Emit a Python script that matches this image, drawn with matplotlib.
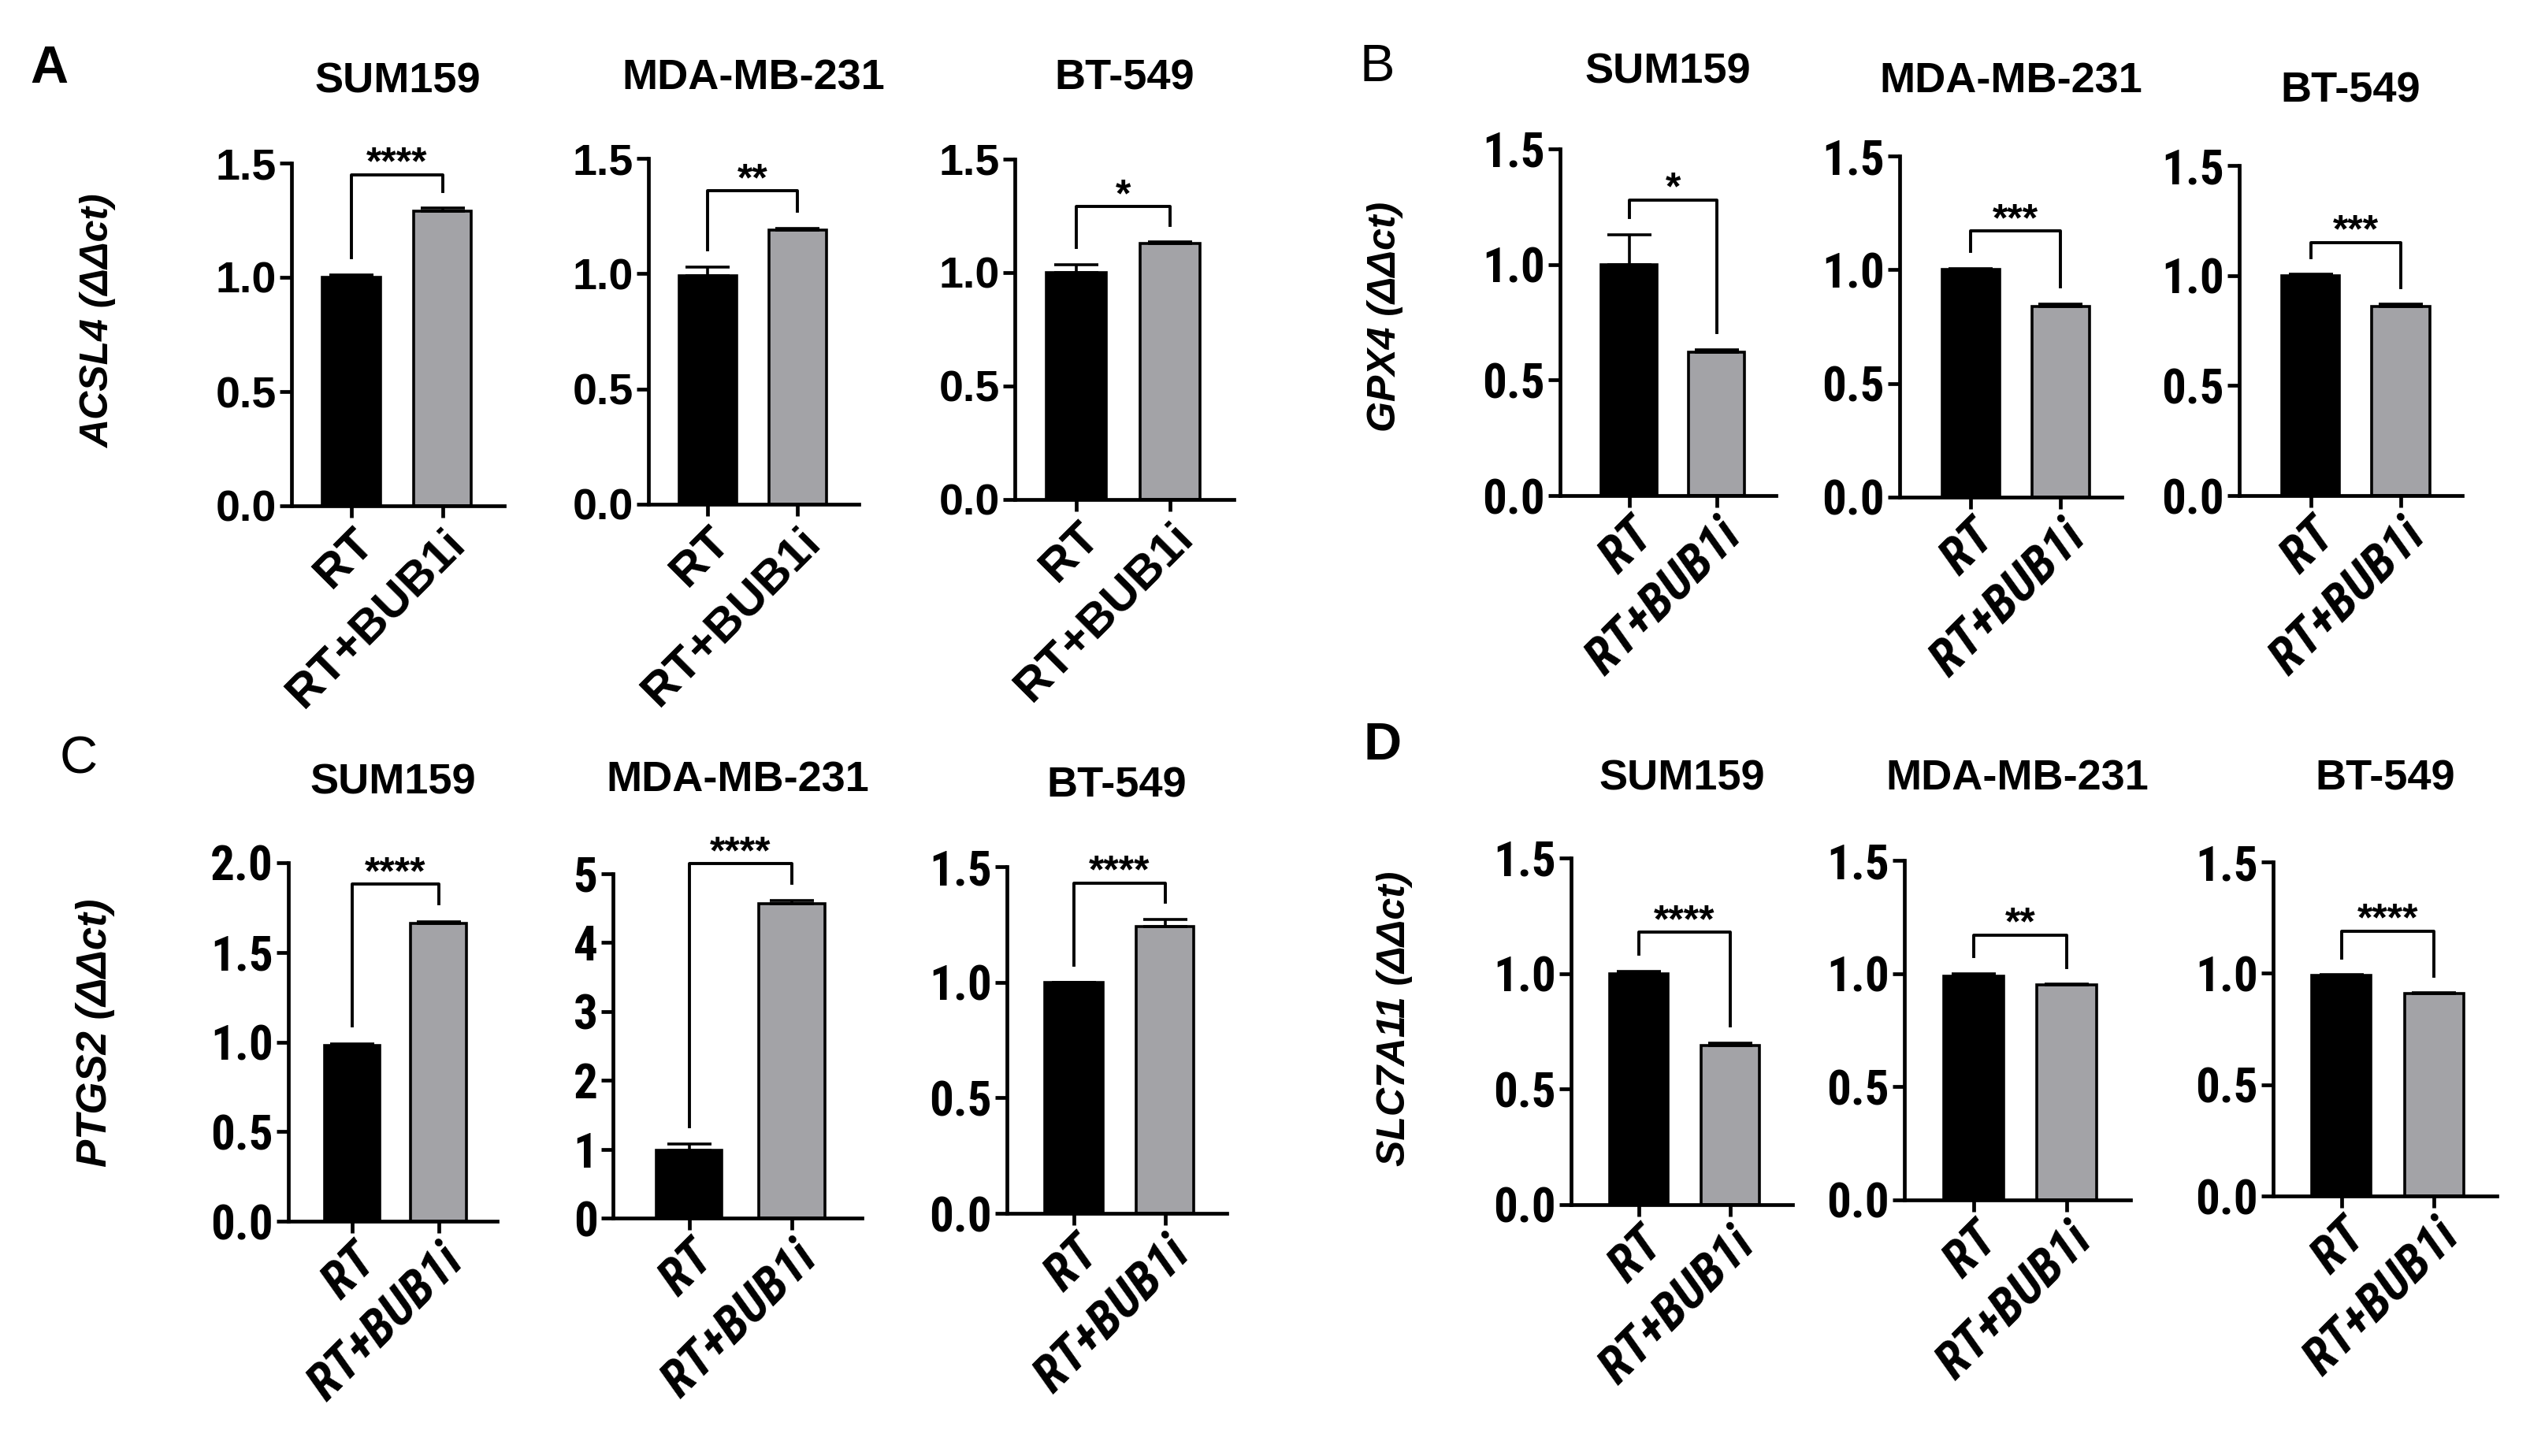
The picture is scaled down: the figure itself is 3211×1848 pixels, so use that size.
import os
import matplotlib
matplotlib.use('Agg')
import matplotlib.pyplot as plt
from matplotlib import font_manager
from matplotlib.font_manager import FontProperties
from matplotlib.ticker import MultipleLocator, FormatStrFormatter

W, H = 3212, 1848

cell_lines = ['SUM159', 'MDA-MB-231', 'BT-549']
groups = ['RT', 'RT+BUB1i']

# ACSL4
acsl4_rt = [1.00, 0.99, 1.00]
acsl4_rt_err = [0.01, 0.04, 0.035]
acsl4_bub = [1.29, 1.19, 1.13]
acsl4_bub_err = [0.012, 0.005, 0.005]
acsl4_sig = ['****', '**', '*']
acsl4_bracket = [1.45, 1.36, 1.29]

# GPX4
gpx4_rt = [1.00, 1.00, 1.00]
gpx4_rt_err = [0.13, 0.005, 0.005]
gpx4_bub = [0.62, 0.84, 0.86]
gpx4_bub_err = [0.01, 0.01, 0.01]
gpx4_sig = ['*', '***', '***']
gpx4_bracket = [1.28, 1.17, 1.15]

# PTGS2
ptgs2_rt = [0.98, 0.98, 1.00]
ptgs2_rt_err = [0.01, 0.10, 0.0]
ptgs2_bub = [1.66, 4.57, 1.24]
ptgs2_bub_err = [0.01, 0.04, 0.03]
ptgs2_sig = ['****', '****', '****']
ptgs2_bracket = [1.88, 5.15, 1.43]
ptgs2_ymax = [2.0, 5.0, 1.5]
ptgs2_ystep = [0.5, 1.0, 0.5]

# SLC7A11
slc_rt = [1.00, 0.99, 0.99]
slc_rt_err = [0.01, 0.01, 0.005]
slc_bub = [0.69, 0.95, 0.91]
slc_bub_err = [0.01, 0.003, 0.003]
slc_sig = ['****', '**', '****']
slc_bracket = [1.18, 1.17, 1.19]

names = {f.name for f in font_manager.fontManager.ttflist}
BASE = 'Liberation Sans' if 'Liberation Sans' in names else 'DejaVu Sans'
plt.rcParams['font.family'] = BASE


def find_condensed(italic):
    # look for a bold narrow / condensed face on the system
    ok = []
    for f in font_manager.fontManager.ttflist:
        base = os.path.basename(f.fname).lower()
        narrow = ('narrow' in f.name.lower() or 'condensed' in f.name.lower()
                  or 'condensed' in base or 'narrow' in base)
        if not narrow:
            continue
        bold = (f.weight in ('bold', 700) or 'bold' in base)
        if not bold:
            continue
        is_it = f.style in ('italic', 'oblique') or 'italic' in base or 'oblique' in base
        if is_it != italic:
            continue
        rank = 0 if 'liberation' in base else (1 if 'roboto' in base else 2)
        ok.append((rank, f.fname))
    ok.sort()
    return ok[0][1] if ok else None


COND = find_condensed(False)
COND_IT = find_condensed(True)


def cond_props(size, italic=False):
    path = COND_IT if italic else COND
    if path:
        return FontProperties(fname=path, size=size)
    return FontProperties(family=BASE, weight='bold', size=size - 4,
                          style='italic' if italic else 'normal')


GRAY = '#a3a3a7'
LW = 3.4

fig = plt.figure(figsize=(W / 100, H / 100), dpi=100)
fig.patch.set_facecolor('white')


def px_axes(x0, x1, ytop, ybot):
    return fig.add_axes([x0 / W, 1 - ybot / H, (x1 - x0) / W, (ybot - ytop) / H])


def panel(rect, rt, rt_e, bub, bub_e, sig, brk, ymax, ystep, title, title_y,
          narrow, xleft, fmt='%.1f'):
    ax = px_axes(*rect)
    vals = [rt, bub]
    errs = [rt_e, bub_e]
    ax.bar([0, 1], vals, width=0.64, color=['black', GRAY],
           edgecolor='black', linewidth=2.6, zorder=2)
    for i in range(2):
        ax.errorbar(i, vals[i], yerr=[[0], [errs[i]]], color='black',
                    capsize=20, elinewidth=2.6, capthick=2.6, zorder=3)
    gap = 0.05 * ymax
    xs = [0, 0, 1, 1]
    ys = [rt + rt_e + gap, brk, brk, bub + bub_e + gap]
    ax.plot(xs, ys, color='black', lw=2.8, clip_on=False, zorder=4)
    ax.text(0.5, brk, sig, ha='center', va='baseline', fontsize=36,
            fontweight='bold', clip_on=False)
    ax.set_xlim(xleft, 1.68)
    ax.set_ylim(0, ymax)
    ax.yaxis.set_major_locator(MultipleLocator(ystep))
    ax.yaxis.set_major_formatter(FormatStrFormatter(fmt))
    for s in ['top', 'right']:
        ax.spines[s].set_visible(False)
    for s in ['left', 'bottom']:
        ax.spines[s].set_linewidth(LW)
    ax.tick_params(axis='both', direction='out', length=11, width=LW, pad=3)
    ax.set_xticks([0, 1])
    if narrow:
        ax.set_xticklabels(groups, rotation=45, ha='right', va='top',
                           rotation_mode='anchor')
        for lab in ax.get_xticklabels():
            lab.set_fontproperties(cond_props(46, italic=True))
        for lab in ax.get_yticklabels():
            lab.set_fontproperties(cond_props(44))
    else:
        ax.set_xticklabels(groups, rotation=45, ha='right', va='top',
                           rotation_mode='anchor', fontsize=43,
                           fontweight='bold')
        for lab in ax.get_yticklabels():
            lab.set_fontsize(40)
            lab.set_fontweight('bold')
    cx = (rect[0] + rect[1]) / 2
    fig.text(cx / W, 1 - title_y / H, title, ha='center', va='center',
             fontsize=39, fontweight='bold')
    return ax


# panel A
rectA = [(370, 640, 207, 642), (823, 1090, 201, 640), (1288, 1566, 202, 634)]
titleA = [103, 100, 100]
for i in range(3):
    panel(rectA[i], acsl4_rt[i], acsl4_rt_err[i], acsl4_bub[i], acsl4_bub_err[i],
          acsl4_sig[i], acsl4_bracket[i], 1.5, 0.5, cell_lines[i], titleA[i],
          False, -0.66)

# panel B
rectB = [(1980, 2254, 189, 629), (2411, 2693, 198, 631), (2842, 3125, 210, 629)]
titleB = [92, 103, 115]
for i in range(3):
    panel(rectB[i], gpx4_rt[i], gpx4_rt_err[i], gpx4_bub[i], gpx4_bub_err[i],
          gpx4_sig[i], gpx4_bracket[i], 1.5, 0.5, cell_lines[i], titleB[i],
          True, -0.79)

# panel C
rectC = [(366, 631, 1095, 1550), (778, 1094, 1109, 1546), (1278, 1557, 1100, 1540)]
titleC = [994, 991, 997]
for i in range(3):
    panel(rectC[i], ptgs2_rt[i], ptgs2_rt_err[i], ptgs2_bub[i], ptgs2_bub_err[i],
          ptgs2_sig[i], ptgs2_bracket[i], ptgs2_ymax[i], ptgs2_ystep[i],
          cell_lines[i], titleC[i], True, -0.74,
          fmt='%d' if ptgs2_ystep[i] >= 1 else '%.1f')

# panel D
rectD = [(1994, 2275, 1089, 1529), (2417, 2704, 1092, 1523), (2885, 3169, 1094, 1518)]
titleD = [988, 988, 988]
for i in range(3):
    panel(rectD[i], slc_rt[i], slc_rt_err[i], slc_bub[i], slc_bub_err[i],
          slc_sig[i], slc_bracket[i], 1.5, 0.5, cell_lines[i], titleD[i],
          True, -0.74)

# y labels
fig.text(125 / W, 1 - 408 / H, 'ACSL4 (ΔΔct)', rotation=90, ha='center',
         va='center', fontsize=36, fontweight='bold', style='italic')
fig.text(1758 / W, 1 - 402 / H, 'GPX4 (ΔΔct)', rotation=90, ha='center',
         va='center', fontsize=36, fontweight='bold', style='italic')
fig.text(121 / W, 1 - 1311 / H, 'PTGS2 (ΔΔct)', rotation=90, ha='center',
         va='center', fontsize=38, fontweight='bold', style='italic')
fig.text(1770 / W, 1 - 1293 / H, 'SLC7A11 (ΔΔct)', rotation=90, ha='center',
         va='center', fontsize=36, fontweight='bold', style='italic')

# panel letters
for letter, x, y, wt in [('A', 62, 88, 'bold'), ('B', 1748, 86, 'normal'),
                         ('C', 100, 964, 'normal'), ('D', 1755, 947, 'bold')]:
    fig.text(x / W, 1 - y / H, letter, ha='center', va='center', fontsize=48,
             fontweight=wt)

fig.savefig('out.png', dpi=100, facecolor='white')
